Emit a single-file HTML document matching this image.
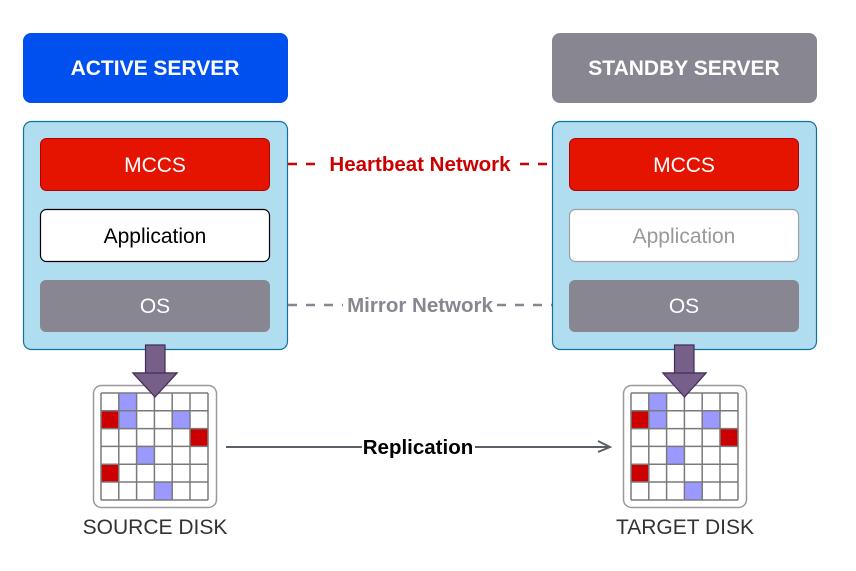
<!DOCTYPE html>
<html><head><meta charset="utf-8"><style>
html,body{margin:0;padding:0;background:#fff;}
svg{display:block;}
text{font-family:"Liberation Sans",Arial,sans-serif;}
</style></head><body>
<svg width="856" height="571" viewBox="0 0 856 571" xmlns="http://www.w3.org/2000/svg">
<defs>
<g id="grid">
  <rect x="0" y="0" width="107" height="107" fill="#fff"/>
  <rect x="17.8" y="0" width="17.8" height="17.8" fill="#9999ff"/>
  <rect x="0" y="17.8" width="17.8" height="17.8" fill="#cc0000"/>
  <rect x="17.8" y="17.8" width="17.8" height="17.8" fill="#9999ff"/>
  <rect x="71.2" y="17.8" width="17.8" height="17.8" fill="#9999ff"/>
  <rect x="89" y="35.6" width="17.8" height="17.8" fill="#cc0000"/>
  <rect x="35.6" y="53.4" width="17.8" height="17.8" fill="#9999ff"/>
  <rect x="0" y="71.2" width="17.8" height="17.8" fill="#cc0000"/>
  <rect x="53.4" y="89" width="17.8" height="17.8" fill="#9999ff"/>
  <g stroke="#7a7a7a" stroke-width="1.5">
    <line x1="0" y1="0" x2="107" y2="0"/><line x1="0" y1="17.8" x2="107" y2="17.8"/>
    <line x1="0" y1="35.6" x2="107" y2="35.6"/><line x1="0" y1="53.4" x2="107" y2="53.4"/>
    <line x1="0" y1="71.2" x2="107" y2="71.2"/><line x1="0" y1="89" x2="107" y2="89"/>
    <line x1="0" y1="107" x2="107" y2="107"/>
    <line y1="0" x1="0" y2="107" x2="0"/><line y1="0" x1="17.8" y2="107" x2="17.8"/>
    <line y1="0" x1="35.6" y2="107" x2="35.6"/><line y1="0" x1="53.4" y2="107" x2="53.4"/>
    <line y1="0" x1="71.2" y2="107" x2="71.2"/><line y1="0" x1="89" y2="107" x2="89"/>
    <line y1="0" x1="107" y2="107" x2="107"/>
  </g>
</g>
</defs>

<!-- Active server -->
<rect x="23" y="33" width="265" height="70" rx="8" fill="#0050ef"/>
<text x="155" y="75" text-anchor="middle" font-size="21" font-weight="bold" fill="#fff">ACTIVE SERVER</text>
<rect x="23.5" y="121.5" width="264" height="228" rx="8" fill="#b1ddf0" stroke="#10739e" stroke-width="1.2"/>
<rect x="40.5" y="138.5" width="229" height="52" rx="6" fill="#e51400" stroke="#b20000"/>
<text x="155" y="172" text-anchor="middle" font-size="21" fill="#fff">MCCS</text>
<rect x="40.5" y="209.5" width="229" height="52" rx="6" fill="#fff" stroke="#000" stroke-width="1.2"/>
<text x="155" y="243" text-anchor="middle" font-size="21" fill="#000">Application</text>
<rect x="40" y="280" width="230" height="52" rx="6" fill="#878691"/>
<text x="155" y="313" text-anchor="middle" font-size="21" fill="#fff">OS</text>

<!-- Standby server -->
<rect x="552" y="33" width="265" height="70" rx="8" fill="#878691"/>
<text x="684" y="75" text-anchor="middle" font-size="21" font-weight="bold" fill="#fff">STANDBY SERVER</text>
<rect x="552.5" y="121.5" width="264" height="228" rx="8" fill="#b1ddf0" stroke="#10739e" stroke-width="1.2"/>
<rect x="569.5" y="138.5" width="229" height="52" rx="6" fill="#e51400" stroke="#b20000"/>
<text x="684" y="172" text-anchor="middle" font-size="21" fill="#fff">MCCS</text>
<rect x="569.5" y="209.5" width="229" height="52" rx="6" fill="#fff" stroke="#a0a0a0" stroke-width="1.2"/>
<text x="684" y="243" text-anchor="middle" font-size="21" fill="#999">Application</text>
<rect x="569" y="280" width="230" height="52" rx="6" fill="#878691"/>
<text x="684" y="313" text-anchor="middle" font-size="21" fill="#fff">OS</text>

<!-- Heartbeat -->
<line x1="288" y1="164" x2="322" y2="164" stroke="#cc0000" stroke-width="2.5" stroke-dasharray="9,9"/>
<line x1="520" y1="164" x2="552" y2="164" stroke="#cc0000" stroke-width="2.5" stroke-dasharray="9,9"/>
<text x="420" y="171" text-anchor="middle" font-size="20.5" font-weight="bold" fill="#cc0000">Heartbeat Network</text>
<!-- Mirror -->
<line x1="288" y1="305" x2="343" y2="305" stroke="#878691" stroke-width="2.5" stroke-dasharray="9,9"/>
<line x1="497" y1="305" x2="552" y2="305" stroke="#878691" stroke-width="2.5" stroke-dasharray="9,9"/>
<text x="420" y="312" text-anchor="middle" font-size="20.5" font-weight="bold" fill="#878691">Mirror Network</text>

<!-- Disk arrows -->
<path d="M145.5,345 H165 V373 H177 L155,397 L133,373 H145.5 Z" fill="#76608a" stroke="#432d57" stroke-width="1.2"/>
<path d="M674.5,345 H694 V373 H706 L684.5,397 L663,373 H674.5 Z" fill="#76608a" stroke="#432d57" stroke-width="1.2"/>

<!-- Disks -->
<rect x="93.5" y="385.5" width="123" height="122" rx="8" fill="#fff" stroke="#999" stroke-width="1.5"/>
<use href="#grid" x="101" y="393"/>
<rect x="623.5" y="385.5" width="123" height="122" rx="8" fill="#fff" stroke="#999" stroke-width="1.5"/>
<use href="#grid" x="631" y="393"/>
<path d="M133,373 H177 L155,397 Z" fill="#76608a" stroke="#432d57" stroke-width="1.2"/>
<path d="M663,373 H706 L684.5,397 Z" fill="#76608a" stroke="#432d57" stroke-width="1.2"/>

<text x="155" y="534" text-anchor="middle" font-size="21" fill="#333">SOURCE DISK</text>
<text x="685" y="534" text-anchor="middle" font-size="21" fill="#333">TARGET DISK</text>

<!-- Replication -->
<line x1="226" y1="447" x2="362" y2="447" stroke="#5a6068" stroke-width="2"/>
<line x1="475" y1="447" x2="610" y2="447" stroke="#5a6068" stroke-width="2"/>
<polyline points="598,441 610,447 598,452" fill="none" stroke="#5a6068" stroke-width="2"/>
<text x="418" y="454" text-anchor="middle" font-size="20.5" font-weight="bold" fill="#000">Replication</text>
</svg>
</body></html>
